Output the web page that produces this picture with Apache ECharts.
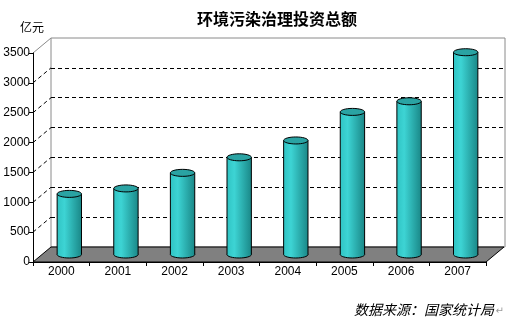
<!DOCTYPE html>
<html><head><meta charset="utf-8">
<script src="https://cdn.jsdelivr.net/npm/echarts@6/dist/echarts.min.js"></script>
<style>html,body{margin:0;padding:0;background:#fff}#c{width:512px;height:328px}</style>
</head><body><div id="c"></div>
<script>
const titleText = '环境污染治理投资总额';
const unitText = '亿元';
const sourceText = '数据来源：国家统计局';
const years = ['2000','2001','2002','2003','2004','2005','2006','2007'];
const investment = [1014.9, 1106.6, 1367.2, 1627.7, 1909.8, 2388.0, 2566.0, 3387.6];
const yMin = 0, yMax = 3500, yStep = 500;
const depthTicks = [500, 1000, 1500, 2000, 2500, 3000];

const DX = 18, DY = 15;
const chart = echarts.init(document.getElementById('c'), null, {renderer: 'canvas'});
const FONT = '"Liberation Sans", Arial, sans-serif';
const CJK = '"Noto Sans CJK SC", sans-serif';

function barGrad() {
  return new echarts.graphic.LinearGradient(0, 0, 1, 0, [
    {offset: 0, color: '#30c4c4'},
    {offset: 0.3, color: '#3dd4d4'},
    {offset: 1, color: '#1a8888'}
  ]);
}

chart.setOption({
  animation: false,
  backgroundColor: '#fff',
  title: {
    text: titleText, left: 192, top: 6,
    textStyle: {fontSize: 16, fontWeight: 'bold', color: '#000', fontFamily: CJK}
  },
  grid: [
    {left: 33, top: 53, width: 453, height: 209, show: false},
    {left: 33 + DX, top: 53 - DY, width: 454, height: 209, show: true,
     borderColor: '#8a8a8a', borderWidth: 1, backgroundColor: '#fff'}
  ],
  xAxis: [
    {type: 'category', gridIndex: 0, data: years, z: 10,
     axisLine: {lineStyle: {color: '#000', width: 1}},
     axisTick: {show: true, length: 4, lineStyle: {color: '#000'}},
     axisLabel: {color: '#000', fontSize: 12, fontFamily: FONT, margin: 4},
     splitLine: {show: false}},
    {type: 'category', gridIndex: 1, data: years, show: false}
  ],
  yAxis: [
    {type: 'value', gridIndex: 0, min: yMin, max: yMax, interval: yStep, z: 10,
     axisLine: {show: true, lineStyle: {color: '#000', width: 1}},
     axisTick: {show: true, length: 4, lineStyle: {color: '#000'}},
     axisLabel: {color: '#000', fontSize: 12, fontFamily: FONT, margin: 3,
       formatter: v => String(v)},
     splitLine: {show: false}},
    {type: 'value', gridIndex: 1, min: yMin, max: yMax, interval: yStep,
     axisLine: {show: false}, axisTick: {show: false}, axisLabel: {show: false},
     splitLine: {show: true, showMinLine: false, showMaxLine: false,
       lineStyle: {color: '#000', type: [4, 3], width: 1}}}
  ],
  series: [
    { // depth connectors on the left side
      type: 'custom', xAxisIndex: 0, yAxisIndex: 0, z: 3,
      data: depthTicks.map(v => [0, v]),
      renderItem: function (params, api) {
        const cs = params.coordSys;
        const y = api.coord([0, api.value(1)])[1];
        return {type: 'line', shape: {x1: cs.x, y1: y, x2: cs.x + DX, y2: y - DY},
          style: {stroke: '#000', lineWidth: 1, lineDash: [4, 3]}};
      }
    },
    { // top-left grey connector at max
      type: 'custom', xAxisIndex: 0, yAxisIndex: 0, z: 3,
      data: [[0, yMax]],
      renderItem: function (params, api) {
        const cs = params.coordSys;
        const y = api.coord([0, api.value(1)])[1];
        return {type: 'line', shape: {x1: cs.x, y1: y, x2: cs.x + DX, y2: y - DY},
          style: {stroke: '#8a8a8a', lineWidth: 1}};
      }
    },
    { // floor
      type: 'custom', xAxisIndex: 0, yAxisIndex: 0, z: 4,
      data: [[0, 0]],
      renderItem: function (params, api) {
        const cs = params.coordSys;
        const y = api.coord([0, 0])[1];
        return {type: 'polygon',
          shape: {points: [[cs.x, y], [cs.x + cs.width, y], [cs.x + cs.width + DX, y - DY], [cs.x + DX, y - DY]]},
          style: {fill: '#808080', stroke: '#000', lineWidth: 1}};
      }
    },
    { // cylinders
      type: 'custom', xAxisIndex: 0, yAxisIndex: 0, z: 6,
      data: investment.map((v, i) => [i, v]),
      renderItem: function (params, api) {
        const idx = api.value(0), val = api.value(1);
        const top = api.coord([idx, val]);
        const base = api.coord([idx, 0]);
        const band = api.size([1, 0])[0];
        const w = band * 0.43, rx = w / 2, ry = 3.5;
        const cx = top[0] + DX / 2 - 1;
        const ty = top[1] - DY / 2;
        const by = base[1] - DY / 2;
        return {type: 'group', children: [
          {type: 'ellipse', shape: {cx: cx, cy: by, rx: rx, ry: ry},
           style: {fill: barGrad(), stroke: '#000', lineWidth: 1}},
          {type: 'rect', shape: {x: cx - rx, y: ty, width: w, height: by - ty},
           style: {fill: barGrad()}},
          {type: 'line', shape: {x1: cx - rx, y1: ty, x2: cx - rx, y2: by},
           style: {stroke: '#000', lineWidth: 1}},
          {type: 'line', shape: {x1: cx + rx, y1: ty, x2: cx + rx, y2: by},
           style: {stroke: '#000', lineWidth: 1}},
          {type: 'ellipse', shape: {cx: cx, cy: ty, rx: rx, ry: ry},
           style: {fill: '#2aa3a3', stroke: '#000', lineWidth: 1}}
        ]};
      }
    }
  ],
  graphic: [
    {type: 'text', left: 20, top: 21,
     style: {text: unitText, fontSize: 12, fill: '#000', fontFamily: CJK}},
    {type: 'text', right: 18, top: 303,
     style: {text: sourceText, fontSize: 14, fontStyle: 'italic', fill: '#000', fontFamily: CJK}},
    {type: 'text', right: 8, top: 306,
     style: {text: '↵', fontSize: 10, fill: '#999', fontFamily: '"DejaVu Sans", sans-serif'}}
  ]
});
</script>
</body></html>
